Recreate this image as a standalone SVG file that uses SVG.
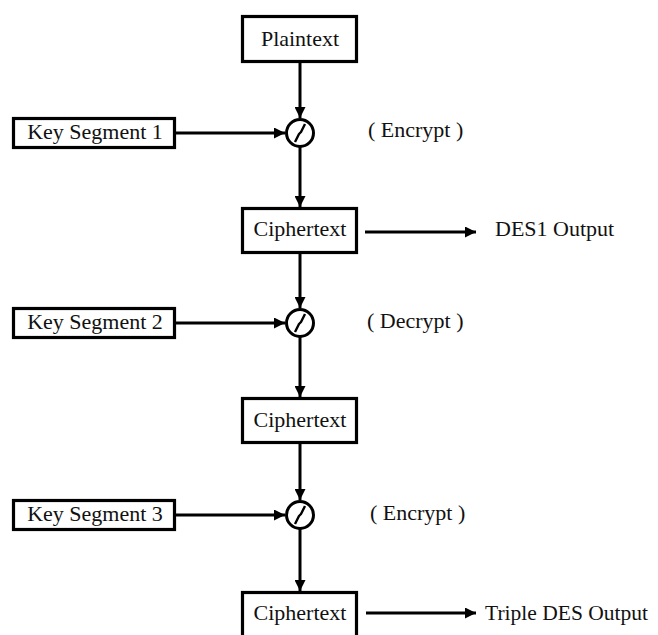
<svg xmlns="http://www.w3.org/2000/svg" width="658" height="635" viewBox="0 0 658 635">
  <style>
    .box { fill: #fff; stroke: #000; stroke-width: 3.2; }
    .op { fill: #fff; stroke: #000; stroke-width: 3; }
    .slash { fill: none; stroke: #000; stroke-width: 2.4; stroke-linejoin: round; }
    .wire { fill: none; stroke: #000; stroke-width: 3; marker-end: url(#head); }
    text { font-family: "Liberation Serif", Tinos, "DejaVu Serif", "Noto Serif", "Times New Roman", serif; font-size: 22px; fill: #111; }
    .mid { text-anchor: middle; }
  </style>
  <defs>
    <marker id="head" viewBox="0 0 10 10" refX="10" refY="5" markerWidth="11" markerHeight="11" markerUnits="userSpaceOnUse" orient="auto">
      <path d="M0,0 L10,5 L0,10 Z" fill="#000"/>
    </marker>
  </defs>
  <rect width="658" height="635" fill="#fff"/>

  <!-- connectors -->
  <g id="connectors">
    <line class="wire" x1="300" y1="63" x2="300" y2="118"/>
    <line class="wire" x1="300" y1="147" x2="300" y2="207"/>
    <line class="wire" x1="300" y1="254" x2="300" y2="308"/>
    <line class="wire" x1="300" y1="337" x2="300" y2="397"/>
    <line class="wire" x1="300" y1="444" x2="300" y2="500"/>
    <line class="wire" x1="300" y1="529" x2="300" y2="591"/>
    <line class="wire" x1="176" y1="133" x2="285" y2="133"/>
    <line class="wire" x1="176" y1="323" x2="285" y2="323"/>
    <line class="wire" x1="176" y1="515" x2="285" y2="515"/>
    <line class="wire" x1="365" y1="232" x2="476" y2="232"/>
    <line class="wire" x1="366" y1="613" x2="476" y2="613"/>
  </g>

  <!-- nodes -->
  <g id="plaintext">
    <rect class="box" x="242.5" y="16.5" width="114" height="45"/>
    <text class="mid" x="300" y="46">Plaintext</text>
  </g>

  <g id="key1">
    <rect class="box" x="13.5" y="118.5" width="161" height="29"/>
    <text class="mid" x="95" y="139">Key Segment 1</text>
  </g>
  <g id="op1">
    <circle class="op" cx="300" cy="133" r="13.5"/>
    <path class="slash" d="M295,142 L299,134 L301,132 L305,124"/>
  </g>
  <text x="368" y="137">( Encrypt )</text>

  <g id="cipher1">
    <rect class="box" x="242.5" y="208.5" width="114" height="44"/>
    <text class="mid" x="300" y="236">Ciphertext</text>
  </g>
  <text x="495" y="236">DES1 Output</text>

  <g id="key2">
    <rect class="box" x="13.5" y="308.5" width="161" height="29"/>
    <text class="mid" x="95" y="329">Key Segment 2</text>
  </g>
  <g id="op2">
    <circle class="op" cx="300" cy="323" r="13.5"/>
    <path class="slash" d="M295,332 L299,324 L301,322 L305,314"/>
  </g>
  <text x="367" y="328">( Decrypt )</text>

  <g id="cipher2">
    <rect class="box" x="242.5" y="398.5" width="114" height="44"/>
    <text class="mid" x="300" y="427">Ciphertext</text>
  </g>

  <g id="key3">
    <rect class="box" x="13.5" y="500.5" width="161" height="29"/>
    <text class="mid" x="95" y="521">Key Segment 3</text>
  </g>
  <g id="op3">
    <circle class="op" cx="300" cy="515" r="13.5"/>
    <path class="slash" d="M295,524 L299,516 L301,514 L305,506"/>
  </g>
  <text x="370" y="520">( Encrypt )</text>

  <g id="cipher3">
    <rect class="box" x="242.5" y="592.5" width="114" height="50"/>
    <text class="mid" x="300" y="620">Ciphertext</text>
  </g>
  <text x="485" y="620" textLength="163" lengthAdjust="spacingAndGlyphs">Triple DES Output</text>
</svg>
